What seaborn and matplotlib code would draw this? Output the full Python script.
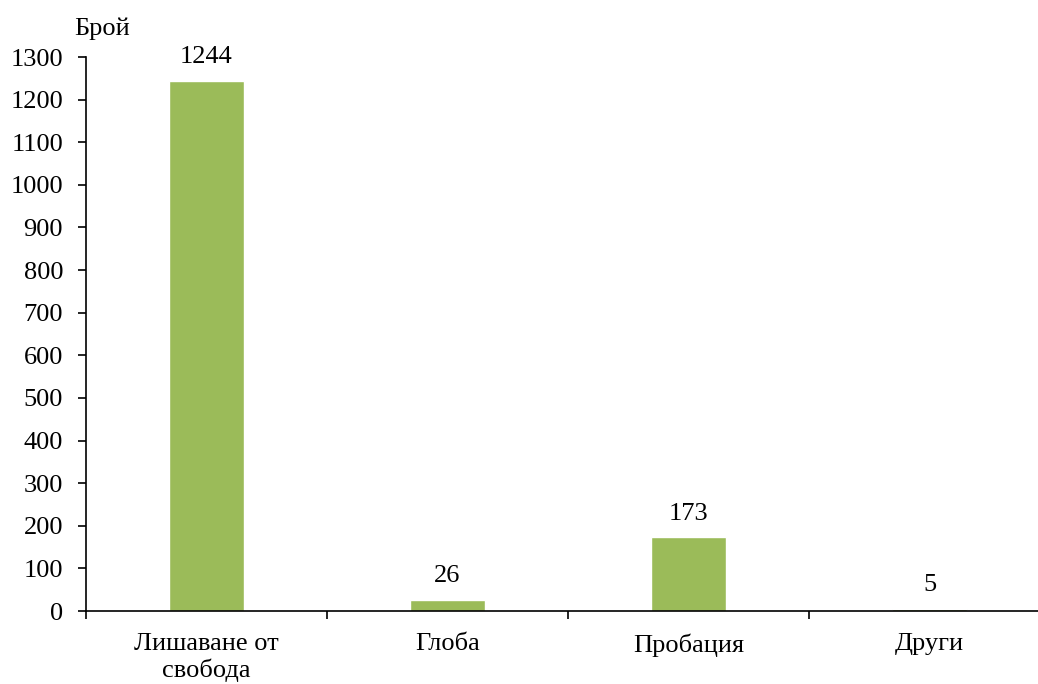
import matplotlib
matplotlib.use("Agg")
import matplotlib.pyplot as plt
from matplotlib.ticker import FixedLocator, MultipleLocator
import seaborn as sns
import pandas as pd

categories = ["Лишаване от\nсвобода", "Глоба", "Пробация", "Други"]
values = [1244, 26, 173, 5]
y_label = "Брой"

FS = 19

sns.set_style("white")
plt.rcParams['font.family'] = ['Liberation Serif', 'DejaVu Serif']
plt.rcParams['font.size'] = FS
plt.rcParams['text.color'] = 'black'
plt.rcParams['xtick.color'] = 'black'
plt.rcParams['ytick.color'] = 'black'
plt.rcParams['axes.labelcolor'] = 'black'

df = pd.DataFrame({"cat": categories, "val": values})

fig = plt.figure(figsize=(10.38, 6.84), dpi=100)
ax = fig.add_axes([86/1038, 73/684, 964/1038, 554/684])
sns.barplot(data=df, x="cat", y="val", color="#9BBB59", saturation=1,
            width=0.315, ax=ax)

ax.set_xlim(-0.5, len(categories) - 0.5)
ax.set_ylim(0, 1300)
ax.yaxis.set_major_locator(MultipleLocator(100))
ax.set_xlabel("")
ax.set_ylabel("")

for s in ["top", "right"]:
    ax.spines[s].set_visible(False)
for s in ["left", "bottom"]:
    ax.spines[s].set_color("black")
    ax.spines[s].set_linewidth(1.2)

ax.tick_params(axis="y", direction="out", length=6, width=1.2, color="black",
               pad=10.5, labelsize=FS, left=True, labelcolor="black")
ax.tick_params(axis="x", which="major", length=0, pad=16, labelsize=FS,
               labelcolor="black")
ax.xaxis.set_minor_locator(FixedLocator([i + 0.5 for i in range(-1, len(categories) - 1)]))
ax.tick_params(axis="x", which="minor", direction="out", length=6, width=1.2,
               color="black", bottom=True)
for lbl in ax.get_xticklabels():
    lbl.set_linespacing(1.18)

for c in ax.containers:
    ax.bar_label(c, labels=[str(v) for v in values], padding=9, fontsize=FS,
                 color="black")

ax.text(-0.0124, 1.0397, y_label, transform=ax.transAxes, ha="left",
        va="baseline", fontsize=FS, color="black")

fig.savefig("out.png", dpi=100)
